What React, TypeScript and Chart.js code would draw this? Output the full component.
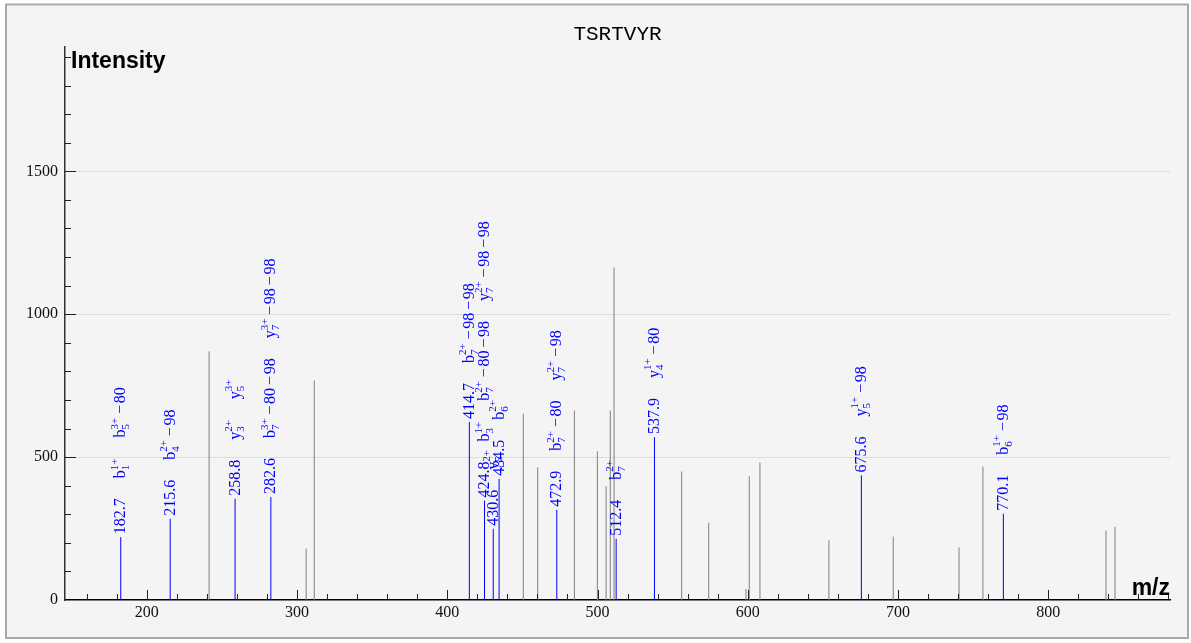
import React, { useEffect, useRef } from "react";
import { Chart, registerables } from "chart.js";

Chart.register(...registerables);

const titleText = "TSRTVYR";
const yAxisTitle = "Intensity";
const xAxisTitle = "m/z";

const xTickValues = [200, 300, 400, 500, 600, 700, 800];
const yTickValues = [0, 500, 1000, 1500];

// annotated (blue) peaks
const annotatedMz = [182.7, 215.6, 258.8, 282.6, 414.7, 424.8, 430.6, 434.5, 472.9, 512.4, 537.9, 675.6, 770.1];
const annotatedIntensity = [220, 284, 354, 360, 623, 348, 249, 424, 316, 214, 570, 436, 302];
// each label: [ion, subscript, superscript, suffix]
const annotatedLabels: string[][][] = [
  [["b", "1", "1+", ""], ["b", "5", "3+", "−80"]],
  [["b", "4", "2+", "−98"]],
  [["y", "3", "2+", ""], ["y", "5", "3+", ""]],
  [["b", "7", "3+", "−80−98"], ["y", "7", "3+", "−98−98"]],
  [["b", "7", "2+", "−98−98"]],
  [["b", "3", "1+", ""], ["b", "7", "2+", "−80−98"], ["y", "7", "2+", "−98−98"]],
  [["y", "5", "2+", ""]],
  [["b", "6", "2+", ""]],
  [["b", "7", "2+", "−80"], ["y", "7", "2+", "−98"]],
  [["b", "7", "2+", ""]],
  [["y", "4", "1+", "−80"]],
  [["y", "5", "1+", "−98"]],
  [["b", "6", "1+", "−98"]],
];

// unannotated (gray) peaks
const grayMz = [241.5, 306.1, 311.5, 450.6, 460.2, 484.6, 499.9, 505.7, 508.5, 511.0, 556.0, 574.0, 598.8, 601.0, 608.1, 654.0, 696.8, 740.6, 756.5, 838.4, 844.4];
const grayIntensity = [870, 180, 768, 652, 465, 663, 520, 398, 663, 1163, 450, 270, 38, 433, 481, 209, 222, 184, 467, 243, 256];

const X_MIN = 145.6;
const X_MAX = 881;
const Y_MAX = 1935;

function stems(mz: number[], inten: number[]) {
  const pts: { x: number; y: number | null }[] = [];
  mz.forEach((m, i) => {
    pts.push({ x: m, y: 0 }, { x: m, y: inten[i] }, { x: m, y: null });
  });
  return pts;
}

const SERIF = '"Liberation Serif", "Times New Roman", serif';
const MAIN_FONT = `16px ${SERIF}`;
const SMALL_FONT = `11px ${SERIF}`;

const framePlugin = {
  id: "frame",
  beforeDraw(chart: any) {
    const { ctx, width, height } = chart;
    ctx.save();
    ctx.fillStyle = "#ffffff";
    ctx.fillRect(0, 0, width, height);
    ctx.fillStyle = "#f4f4f4";
    ctx.fillRect(6, 4.5, 1182, 633.5);
    ctx.strokeStyle = "#a9a9a9";
    ctx.lineWidth = 2;
    ctx.strokeRect(6, 4.5, 1182, 633.5);
    ctx.restore();
  },
  afterDraw(chart: any) {
    const { ctx, chartArea } = chart;
    const x = chart.scales.x;
    const y = chart.scales.y;
    ctx.save();
    // inward ticks
    ctx.strokeStyle = "#222";
    ctx.lineWidth = 1;
    ctx.beginPath();
    for (let v = 160; v <= 880; v += 20) {
      const px = Math.round(x.getPixelForValue(v)) + 0.5;
      const len = v % 100 === 0 ? 10 : 6;
      ctx.moveTo(px, chartArea.bottom);
      ctx.lineTo(px, chartArea.bottom - len);
    }
    for (let v = 100; v <= 1900; v += 100) {
      const py = Math.round(y.getPixelForValue(v)) + 0.5;
      const len = v % 500 === 0 ? 11 : 6;
      ctx.moveTo(chartArea.left, py);
      ctx.lineTo(chartArea.left + len, py);
    }
    ctx.stroke();
    // title
    ctx.fillStyle = "#000";
    ctx.textAlign = "center";
    ctx.textBaseline = "alphabetic";
    ctx.font = '21px "Liberation Mono", "Courier New", monospace';
    ctx.fillText(titleText, 617.5, 40);
    // axis titles
    ctx.font = 'bold 23px "Liberation Sans", Arial, sans-serif';
    ctx.textAlign = "left";
    ctx.fillText(yAxisTitle, 71, 68);
    ctx.textAlign = "right";
    ctx.fillText(xAxisTitle, chartArea.right, 594.5);
    ctx.restore();
  },
};

const labelPlugin = {
  id: "peakLabels",
  afterDatasetsDraw(chart: any) {
    const { ctx } = chart;
    const x = chart.scales.x;
    const y = chart.scales.y;
    const BASE = 4.5;
    const GAP = 20;
    ctx.save();
    ctx.fillStyle = "#0000ff";
    ctx.textBaseline = "alphabetic";
    ctx.textAlign = "left";
    annotatedMz.forEach((m, i) => {
      const px = x.getPixelForValue(m);
      const py = y.getPixelForValue(annotatedIntensity[i]);
      ctx.save();
      ctx.translate(px, py - 3);
      ctx.rotate(-Math.PI / 2);
      let pos = 0;
      ctx.font = MAIN_FONT;
      const v = m.toFixed(1);
      ctx.fillText(v, pos, BASE);
      pos += ctx.measureText(v).width + GAP;
      for (const [ion, sub, sup, suffix] of annotatedLabels[i]) {
        ctx.font = MAIN_FONT;
        ctx.fillText(ion, pos, BASE);
        pos += ctx.measureText(ion).width;
        ctx.font = SMALL_FONT;
        ctx.fillText(sup, pos, -3);
        ctx.fillText(sub, pos, 8.5);
        pos += Math.max(ctx.measureText(sup).width, ctx.measureText(sub).width) + 1;
        if (suffix) {
          ctx.font = MAIN_FONT;
          const parts = suffix.split("−").filter((p) => p.length > 0);
          for (const p of parts) {
            pos += 3;
            ctx.fillText("−", pos, BASE);
            pos += ctx.measureText("−").width + 1.5;
            ctx.fillText(p, pos, BASE);
            pos += ctx.measureText(p).width;
          }
        }
        pos += GAP;
      }
      ctx.restore();
    });
    ctx.restore();
  },
};

export default function App() {
  const ref = useRef<HTMLCanvasElement>(null);
  useEffect(() => {
    const canvas = ref.current!;
    const chart = new Chart(canvas, {
      type: "line",
      data: {
        datasets: [
          {
            data: stems(grayMz, grayIntensity) as any,
            borderColor: "#7f7f7f",
            borderWidth: 1,
            pointRadius: 0,
            spanGaps: false,
            tension: 0,
          },
          {
            data: stems(annotatedMz, annotatedIntensity) as any,
            borderColor: "#0000ff",
            borderWidth: 1,
            pointRadius: 0,
            spanGaps: false,
            tension: 0,
          },
        ],
      },
      options: {
        responsive: false,
        animation: false,
        devicePixelRatio: 1,
        events: [],
        layout: { padding: { left: 0, top: 47, right: 21, bottom: 0 } },
        plugins: {
          legend: { display: false },
          tooltip: { enabled: false },
          title: { display: false },
        },
        scales: {
          x: {
            type: "linear",
            min: X_MIN,
            max: X_MAX,
            afterBuildTicks: (scale: any) => {
              scale.ticks = xTickValues.map((v) => ({ value: v }));
            },
            afterFit: (scale: any) => {
              scale.height = 43;
            },
            grid: { display: false, drawTicks: false },
            border: { display: true, color: "#000", width: 1.5 },
            ticks: {
              color: "#111",
              font: { family: SERIF, size: 16 },
              padding: 3,
              maxRotation: 0,
              autoSkip: false,
              callback: (v: any) => String(v),
            },
          },
          y: {
            type: "linear",
            min: 0,
            max: Y_MAX,
            afterBuildTicks: (scale: any) => {
              scale.ticks = yTickValues.map((v) => ({ value: v }));
            },
            afterFit: (scale: any) => {
              scale.width = 65;
            },
            grid: {
              drawTicks: false,
              color: (c: any) => (c.tick && c.tick.value === 0 ? "rgba(0,0,0,0)" : "#dcdcdc"),
              lineWidth: 1,
            },
            border: { display: true, color: "#333", width: 1.5 },
            ticks: {
              color: "#111",
              font: { family: SERIF, size: 16 },
              padding: 7,
              autoSkip: false,
              callback: (v: any) => String(v),
            },
          },
        },
      },
      plugins: [framePlugin, labelPlugin],
    } as any);
    return () => chart.destroy();
  }, []);
  return (
    <div style={{ position: "absolute", left: 0, top: 0, width: 1191, height: 643 }}>
      <canvas ref={ref} width={1191} height={643} style={{ display: "block" }} />
    </div>
  );
}
